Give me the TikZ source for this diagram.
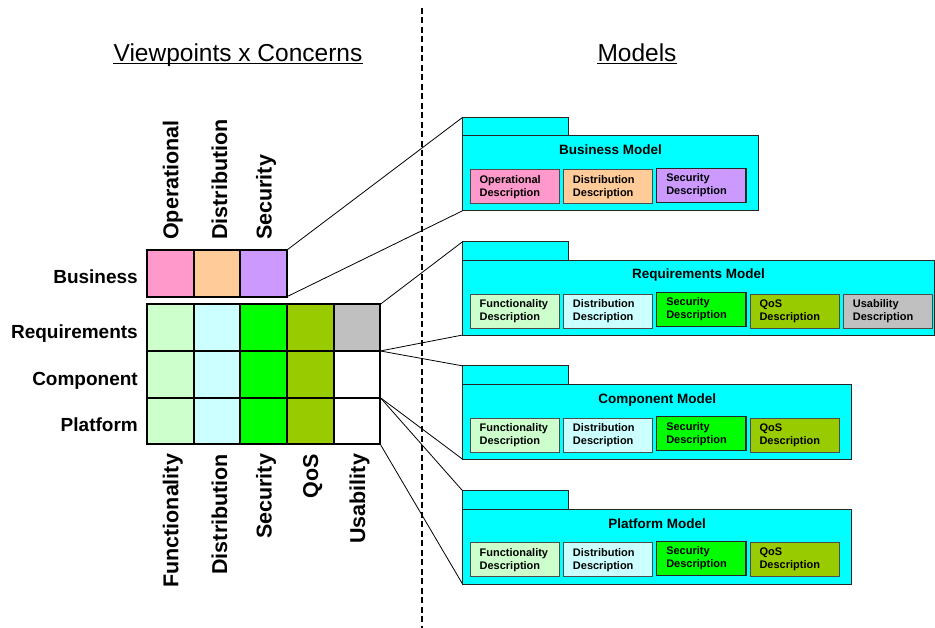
\documentclass[tikz,border=0pt]{standalone}
\usepackage{fontspec}
\setmainfont{Liberation Sans}

\definecolor{opink}{HTML}{FF99CC}
\definecolor{dpeach}{HTML}{FFCC99}
\definecolor{slav}{HTML}{CC99FF}
\definecolor{fgreen}{HTML}{CCFFCC}
\definecolor{dcyan}{HTML}{CCFFFF}
\definecolor{sgreen}{HTML}{00FF00}
\definecolor{qolive}{HTML}{99CC00}
\definecolor{ugray}{HTML}{C0C0C0}
\definecolor{pkgcyan}{HTML}{00FFFF}

\tikzset{
  cell/.style={draw, rectangle, line width=1.8pt, minimum width=46.66pt, minimum height=46.66pt, inner sep=0pt, outer sep=0pt},
  rowlabel/.style={font=\fontsize{19}{22}\selectfont\bfseries, inner sep=0pt, anchor=base east},
  collabel/.style={font=\fontsize{21.5}{25}\selectfont\bfseries, inner sep=0pt, rotate=90},
  heading/.style={font=\fontsize{24.5}{28}\selectfont, inner sep=0pt, anchor=base},
  pkg/.style={draw=black!85, fill=pkgcyan, rectangle, line width=0.9pt, minimum height=75pt, inner sep=0pt, outer sep=0pt},
  pkgtab/.style={draw=black!85, fill=pkgcyan, rectangle, line width=0.9pt, minimum width=105.6pt, minimum height=18.4pt, inner sep=0pt, outer sep=0pt},
  pkgtitle/.style={font=\fontsize{13.5}{16}\selectfont\bfseries, inner sep=0pt},
  desc/.style={draw=black!70, rectangle, line width=0.8pt, minimum height=34pt, text width=70pt, inner xsep=9.65pt, inner ysep=0pt, outer sep=0pt, align=left, font=\fontsize{11}{13}\selectfont\bfseries},
  descsec/.style={desc, draw=black!85, line width=1.2pt},
  link/.style={line width=0.8pt}
}

\begin{document}
\begin{tikzpicture}[x=1pt, y=-1pt]
    \useasboundingbox (0,0) rectangle (935,628);

    %% headings and split line
    \node[heading](vc) at (238,61.5){Viewpoints x Concerns};
    \node[heading](mo) at (637,61.5){Models};
    \draw[line width=1.3pt] ([yshift=-2pt]vc.base west) -- ([yshift=-2pt]vc.base east);
    \draw[line width=1.3pt] ([yshift=-2pt]mo.base west) -- ([yshift=-2pt]mo.base east);
    \coordinate (s0) at (422,8);
    \coordinate (s1) at (422,628);
    \draw[line width=2pt, dash pattern=on 6pt off 3.5pt] (s0) -- (s1);

    %% business row
    \draw
    (147,250)node[cell, fill=opink, anchor=north west](b1){}
    (b1.0)node[cell, fill=dpeach, anchor=180](b2){}
    (b2.0)node[cell, fill=slav, anchor=180](b3){}
    ;

    %% requirements, component, platform rows
    \draw
    (147,304.3)node[cell, fill=fgreen, anchor=north west](r1){}
    (r1.0)node[cell, fill=dcyan, anchor=180](r2){}
    (r2.0)node[cell, fill=sgreen, anchor=180](r3){}
    (r3.0)node[cell, fill=qolive, anchor=180](r4){}
    (r4.0)node[cell, fill=ugray, anchor=180](r5){}
    (r1.270)node[cell, fill=fgreen, anchor=90](c1){}
    (c1.0)node[cell, fill=dcyan, anchor=180](c2){}
    (c2.0)node[cell, fill=sgreen, anchor=180](c3){}
    (c3.0)node[cell, fill=qolive, anchor=180](c4){}
    (c4.0)node[cell, fill=white, anchor=180](c5){}
    (c1.270)node[cell, fill=fgreen, anchor=90](p1){}
    (p1.0)node[cell, fill=dcyan, anchor=180](p2){}
    (p2.0)node[cell, fill=sgreen, anchor=180](p3){}
    (p3.0)node[cell, fill=qolive, anchor=180](p4){}
    (p4.0)node[cell, fill=white, anchor=180](p5){}
    ;

    %% labels
    \node[rowlabel](lb) at (138,283.3){Business};
    \node[rowlabel](lr) at (138,338.3){Requirements};
    \node[rowlabel](lc) at (138,386){Component};
    \node[rowlabel](lp) at (138,431.7){Platform};
    \node[collabel, anchor=west](to1) at ([xshift=2.5pt, yshift=10pt]b1.north){Operational};
    \node[collabel, anchor=west](to2) at ([xshift=2.5pt, yshift=10pt]b2.north){Distribution};
    \node[collabel, anchor=west](to3) at ([xshift=2.5pt, yshift=10pt]b3.north){Security};
    \node[collabel, anchor=east](bo1) at ([xshift=2.5pt, yshift=-9.5pt]p1.south){Functionality};
    \node[collabel, anchor=east](bo2) at ([xshift=2.5pt, yshift=-9.5pt]p2.south){Distribution};
    \node[collabel, anchor=east](bo3) at ([xshift=2.5pt, yshift=-9.5pt]p3.south){Security};
    \node[collabel, anchor=east](bo4) at ([xshift=2.5pt, yshift=-9.5pt]p4.south){QoS};
    \node[collabel, anchor=east](bo5) at ([xshift=2.5pt, yshift=-9.5pt]p5.south){Usability};

    %% business model
    \draw
    (462.7,135.7)node[pkg, minimum width=295.6pt, anchor=north west](bm){}
    (bm.north west)node[pkgtab, anchor=south west](bmtab){}
    ([yshift=-19pt]bm.north)node[pkgtitle, anchor=base](bmt){Business Model}
    ([shift={(7.3,34)}]bm.north west)node[desc, fill=opink, anchor=north west](bd1){Operational\\Description}
    ([xshift=4pt]bd1.north east)node[desc, fill=dpeach, anchor=north west](bd2){Distribution\\Description}
    ([xshift=4pt, yshift=1.5pt]bd2.north east)node[descsec, fill=slav, anchor=north west](bd3){Security\\Description}
    ;

    %% requirements model
    \draw
    (462.7,260)node[pkg, minimum width=471.8pt, anchor=north west](rm){}
    (rm.north west)node[pkgtab, anchor=south west](rmtab){}
    ([yshift=-18.5pt]rm.north)node[pkgtitle, anchor=base](rmt){Requirements Model}
    ([shift={(7.3,34)}]rm.north west)node[desc, fill=fgreen, anchor=north west](rd1){Functionality\\Description}
    ([xshift=4pt]rd1.north east)node[desc, fill=dcyan, anchor=north west](rd2){Distribution\\Description}
    ([xshift=4pt, yshift=1.5pt]rd2.north east)node[descsec, fill=sgreen, anchor=north west](rd3){Security\\Description}
    ([xshift=4pt, yshift=-1.5pt]rd3.north east)node[desc, fill=qolive, anchor=north west](rd4){QoS\\Description}
    ([xshift=4pt]rd4.north east)node[desc, fill=ugray, anchor=north west](rd5){Usability\\Description}
    ;

    %% component model
    \draw
    (462.7,384.3)node[pkg, minimum width=389pt, anchor=north west](cm){}
    (cm.north west)node[pkgtab, anchor=south west](cmtab){}
    ([yshift=-19pt]cm.north)node[pkgtitle, anchor=base](cmt){Component Model}
    ([shift={(7.3,34)}]cm.north west)node[desc, fill=fgreen, anchor=north west](cd1){Functionality\\Description}
    ([xshift=4pt]cd1.north east)node[desc, fill=dcyan, anchor=north west](cd2){Distribution\\Description}
    ([xshift=4pt, yshift=1.5pt]cd2.north east)node[descsec, fill=sgreen, anchor=north west](cd3){Security\\Description}
    ([xshift=4pt, yshift=-1.5pt]cd3.north east)node[desc, fill=qolive, anchor=north west](cd4){QoS\\Description}
    ;

    %% platform model
    \draw
    (462.7,509.3)node[pkg, minimum width=389pt, anchor=north west](pm){}
    (pm.north west)node[pkgtab, anchor=south west](pmtab){}
    ([yshift=-19pt]pm.north)node[pkgtitle, anchor=base](pmt){Platform Model}
    ([shift={(7.3,33.4)}]pm.north west)node[desc, fill=fgreen, anchor=north west](pd1){Functionality\\Description}
    ([xshift=4pt]pd1.north east)node[desc, fill=dcyan, anchor=north west](pd2){Distribution\\Description}
    ([xshift=4pt, yshift=1.5pt]pd2.north east)node[descsec, fill=sgreen, anchor=north west](pd3){Security\\Description}
    ([xshift=4pt, yshift=-1.5pt]pd3.north east)node[desc, fill=qolive, anchor=north west](pd4){QoS\\Description}
    ;

    %% links from the grid to the models
    \draw[link] (b3.north east) -- (bmtab.north west);
    \draw[link] (b3.south east) -- (bm.south west);
    \draw[link] (r5.north east) -- (rmtab.north west);
    \draw[link] (r5.south east) -- (rm.south west);
    \draw[link] (r5.south east) -- (cmtab.north west);
    \draw[link] (c5.south east) -- (cm.south west);
    \draw[link] (c5.south east) -- (pmtab.north west);
    \draw[link] (p5.south east) -- (pm.south west);
\end{tikzpicture}
\end{document}
